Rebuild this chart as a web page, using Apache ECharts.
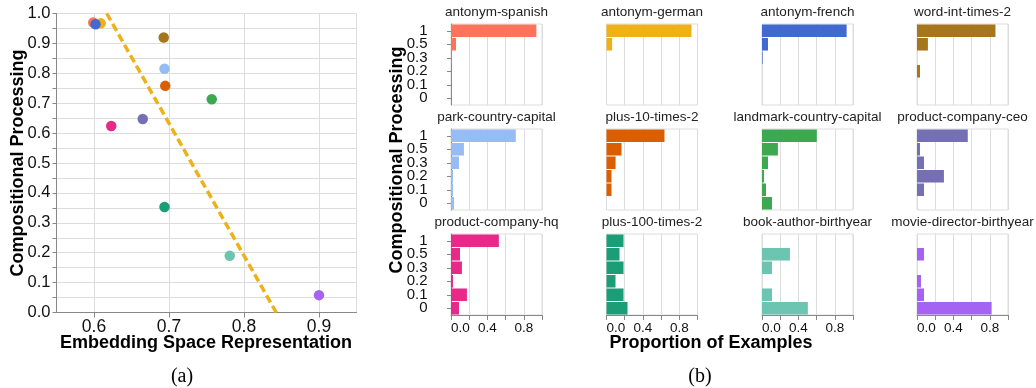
<!DOCTYPE html>
<html><head><meta charset="utf-8">
<script src="https://cdn.jsdelivr.net/npm/echarts@6/dist/echarts.min.js"></script>
<style>html,body{margin:0;padding:0;background:#fff}#c{width:1036px;height:388px}</style>
</head><body><div id="c"></div>
<script>
// ---------- data ----------
const relations = ['antonym-spanish','antonym-german','antonym-french','word-int-times-2',
  'park-country-capital','plus-10-times-2','landmark-country-capital','product-company-ceo',
  'product-company-hq','plus-100-times-2','book-author-birthyear','movie-director-birthyear'];
const embeddingScore     = [0.599,0.609,0.602,0.693,0.694,0.695,0.757,0.665,0.623,0.694,0.781,0.900];
const compositionalScore = [0.970,0.967,0.964,0.920,0.815,0.758,0.713,0.647,0.624,0.353,0.190,0.058];
const trendX = [0.617, 0.843];
const trendY = [1.0, 0.0];
const scatterXTicks = [0.6, 0.7, 0.8, 0.9];
const scoreLevels = ['1','0.5','0.3','0.2','0.1','0'];
const facetXLabels = [0, 0.4, 0.8];

const propAntonymSpanish   = [0.938,0.055,0.007,0,0,0];
const propAntonymGerman    = [0.934,0.062,0,0,0,0];
const propAntonymFrench    = [0.930,0.066,0.007,0,0,0];
const propWordIntTimes2    = [0.862,0.120,0,0.033,0,0];
const propParkCountry      = [0.712,0.142,0.088,0.022,0.022,0.033];
const propPlus10Times2     = [0.637,0.165,0.100,0.055,0.055,0];
const propLandmarkCountry  = [0.602,0.175,0.066,0.022,0.044,0.110];
const propProductCeo       = [0.558,0.033,0.077,0.296,0.077,0];
const propProductHq        = [0.526,0.099,0.120,0.022,0.175,0.088];
const propPlus100Times2    = [0.187,0.143,0.187,0.099,0.187,0.231];
const propBookAuthor       = [0,0.307,0.110,0,0.110,0.504];
const propMovieDirector    = [0,0.077,0,0.044,0.077,0.820];

// ---------- styles ----------
const palette = ['#ff725c','#efb118','#4269d0','#a6761d','#97bbf5','#d95f02',
  '#3ca951','#7570b3','#e7298a','#1b9e77','#6cc5b0','#a463f2'];
const FONT = '"Liberation Sans", Arial, sans-serif';
const SERIF = '"Liberation Serif", "Times New Roman", serif';
const proportions = [propAntonymSpanish,propAntonymGerman,propAntonymFrench,propWordIntTimes2,
  propParkCountry,propPlus10Times2,propLandmarkCountry,propProductCeo,
  propProductHq,propPlus100Times2,propBookAuthor,propMovieDirector];

const colLeft = [451, 606.5, 762, 917];
const rowTop = [24, 129, 234];
const facetW = 91, facetH = 81;

const grid = [{left:56.5, top:13.5, width:300, height:299, show:true, borderColor:'#ddd', borderWidth:1}];
const xAxis = [{
  gridIndex:0, type:'value', min:0.55, max:0.95,
  axisLine:{show:true, onZero:false, lineStyle:{color:'#888'}},
  axisTick:{show:true, customValues:scatterXTicks, length:5, lineStyle:{color:'#888'}},
  axisLabel:{customValues:scatterXTicks, formatter:v=>v.toFixed(1), color:'#111', fontSize:17.5, fontFamily:FONT, margin:6},
  splitLine:{show:true, lineStyle:{color:'#ddd'}}
}];
const yAxis = [{
  gridIndex:0, type:'value', min:0, max:1, interval:0.1,
  axisLine:{show:true, onZero:false, lineStyle:{color:'#888'}},
  axisTick:{show:true, length:4, lineStyle:{color:'#888'}},
  minorTick:{show:true, splitNumber:2, length:4, lineStyle:{color:'#888'}},
  axisLabel:{formatter:v=>v.toFixed(1), color:'#111', fontSize:16.5, fontFamily:FONT, margin:6},
  splitLine:{show:true, lineStyle:{color:'#ddd'}},
  minorSplitLine:{show:true, lineStyle:{color:'#ddd'}}
}];
const series = [
  {type:'line', xAxisIndex:0, yAxisIndex:0, data:trendX.map((x,i)=>[x,trendY[i]]), symbol:'none',
   lineStyle:{color:'#efb118', width:3.5, type:[8,4]}, z:2, silent:true},
  {type:'scatter', xAxisIndex:0, yAxisIndex:0, symbolSize:10.5, z:3,
   data:embeddingScore.map((x,i)=>({name:relations[i], value:[x,compositionalScore[i]], itemStyle:{color:palette[i], opacity:1}}))}
];
const graphic = [
  {type:'text', x:18, y:163, rotation:Math.PI/2, style:{text:'Compositional Processing', font:'bold 18px '+FONT, fill:'#000', align:'center', verticalAlign:'middle'}},
  {type:'text', x:206, y:343, style:{text:'Embedding Space Representation', font:'bold 18px '+FONT, fill:'#000', align:'center', verticalAlign:'middle'}},
  {type:'text', x:182, y:377, style:{text:'(a)', font:'20px '+SERIF, fill:'#000', align:'center', verticalAlign:'middle'}},
  {type:'text', x:397, y:160, rotation:Math.PI/2, style:{text:'Compositional Processing', font:'bold 18px '+FONT, fill:'#000', align:'center', verticalAlign:'middle'}},
  {type:'text', x:711, y:343, style:{text:'Proportion of Examples', font:'bold 18px '+FONT, fill:'#000', align:'center', verticalAlign:'middle'}},
  {type:'text', x:700, y:377, style:{text:'(b)', font:'20px '+SERIF, fill:'#000', align:'center', verticalAlign:'middle'}}
];

relations.forEach((rel, i) => {
  const r = Math.floor(i/4), c = i%4, gi = i+1;
  const bottom = r === 2, first = c === 0;
  grid.push({left:colLeft[c], top:rowTop[r], width:facetW, height:facetH, show:true, borderColor:'#ddd', borderWidth:1});
  xAxis.push({
    gridIndex:gi, type:'value', min:0, max:1, interval:0.2,
    axisLine:{show:bottom, onZero:false, lineStyle:{color:'#888'}},
    axisTick:{show:bottom, length:5, lineStyle:{color:'#888'}},
    axisLabel:{show:bottom, color:'#111', fontSize:13.5, fontFamily:FONT, margin:6,
      alignMinLabel:'left',
      formatter:v=>facetXLabels.some(t=>Math.abs(t-v)<1e-6) ? v.toFixed(1) : ''},
    splitLine:{show:true, lineStyle:{color:'#ddd'}}
  });
  yAxis.push({
    gridIndex:gi, type:'category', data:scoreLevels, inverse:true, show:first, offset:first?17.5:0,
    axisLine:{show:first, lineStyle:{color:'#888'}},
    axisTick:{show:first, alignWithLabel:true, interval:0, length:4, lineStyle:{color:'#888'}},
    axisLabel:{show:first, interval:0, color:'#111', fontSize:15, fontFamily:FONT, margin:6},
    splitLine:{show:false}
  });
  series.push({type:'bar', xAxisIndex:gi, yAxisIndex:gi, data:proportions[i], barCategoryGap:'7%',
    itemStyle:{color:palette[i]}, silent:true});
  graphic.push({type:'text', x:colLeft[c]+facetW/2, y:rowTop[r]-11.5,
    style:{text:rel, font:'13.5px '+FONT, fill:'#222', align:'center', verticalAlign:'middle'}});
});

const chart = echarts.init(document.getElementById('c'), null, {renderer:'canvas'});
chart.setOption({animation:false, backgroundColor:'#fff', grid, xAxis, yAxis, series, graphic});
</script></body></html>
